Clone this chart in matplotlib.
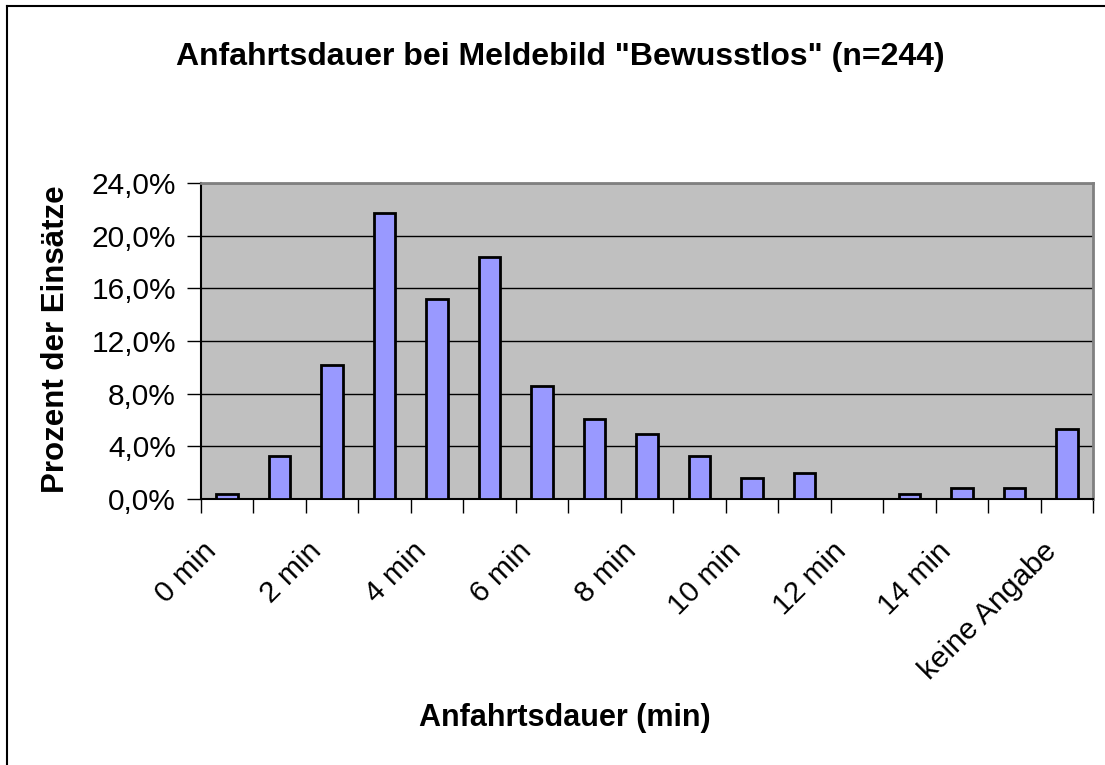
import matplotlib
matplotlib.use("Agg")
import matplotlib.pyplot as plt
from matplotlib.lines import Line2D
from matplotlib.ticker import FixedLocator, FuncFormatter
from matplotlib.transforms import ScaledTranslation

plt.rcParams["font.family"] = ["Liberation Sans", "DejaVu Sans"]

categories = [
    "0 min", "1 min", "2 min", "3 min", "4 min", "5 min", "6 min", "7 min",
    "8 min", "9 min", "10 min", "11 min", "12 min", "13 min", "14 min",
    "15 min", "keine Angabe",
]
percent = [0.4, 3.3, 10.2, 21.7, 15.2, 18.4, 8.6, 6.1, 4.9, 3.3,
           1.6, 2.0, 0.0, 0.4, 0.8, 0.8, 5.3]
yticks = [0, 4, 8, 12, 16, 20, 24]

title = 'Anfahrtsdauer bei Meldebild "Bewusstlos" (n=244)'
xlabel = "Anfahrtsdauer (min)"
ylabel = "Prozent der Einsätze"

W, H = 1105, 765
fig = plt.figure(figsize=(W / 100, H / 100), dpi=100)
ax = fig.add_axes([201 / W, 1 - 499 / H, (1093 - 201) / W, (499 - 183) / H])
ax.set_facecolor("#C0C0C0")

x = list(range(len(categories)))
ax.bar(x, percent, width=0.41, color="#9999FF", edgecolor="black",
       linewidth=2.0, zorder=3)

ax.set_xlim(-0.5, len(categories) - 0.5)
ax.set_ylim(0, 24)

# gridlines
ax.set_yticks(yticks)
ax.yaxis.set_major_formatter(FuncFormatter(lambda v, p: f"{v:.1f}%".replace(".", ",")))
ax.grid(axis="y", color="black", linewidth=1.0, zorder=1)
ax.tick_params(axis="y", length=10, width=1, labelsize=21.5, pad=8, direction="out")

# labels at every second category, ticks between categories
label_pos = x[::2]
ax.set_xticks(label_pos)
ax.set_xticklabels([categories[i] for i in label_pos], rotation=45,
                   ha="right", va="center", rotation_mode="anchor", fontsize=21.5)
ax.tick_params(axis="x", which="major", length=0, pad=22)
shift = ScaledTranslation(-0.15, -0.17, fig.dpi_scale_trans)
for lbl in ax.get_xticklabels():
    lbl.set_transform(lbl.get_transform() + shift)
ax.xaxis.set_minor_locator(FixedLocator([i - 0.5 for i in range(len(categories) + 1)]))
ax.tick_params(axis="x", which="minor", length=10, width=1, direction="out")

for side in ["left", "bottom"]:
    ax.spines[side].set_color("black")
    ax.spines[side].set_linewidth(1.5)
for side in ["top", "right"]:
    ax.spines[side].set_color("#808080")
    ax.spines[side].set_linewidth(2.0)

fig.text(560 / W, 1 - 57 / H, title, ha="center", va="center",
         fontsize=23, fontweight="bold")
fig.text(565 / W, 1 - 718 / H, xlabel, ha="center", va="center",
         fontsize=22, fontweight="bold")
fig.text(56 / W, 1 - 339 / H, ylabel, ha="center", va="center",
         rotation=90, fontsize=22.5, fontweight="bold")

# chart border (only left and top edges visible in the crop)
fig.add_artist(Line2D([7 / W, 7 / W], [0, 1 - 6 / H], color="black", linewidth=1.5))
fig.add_artist(Line2D([7 / W, 1], [1 - 6 / H, 1 - 6 / H], color="black", linewidth=1.5))

fig.savefig("out.png", dpi=100)
